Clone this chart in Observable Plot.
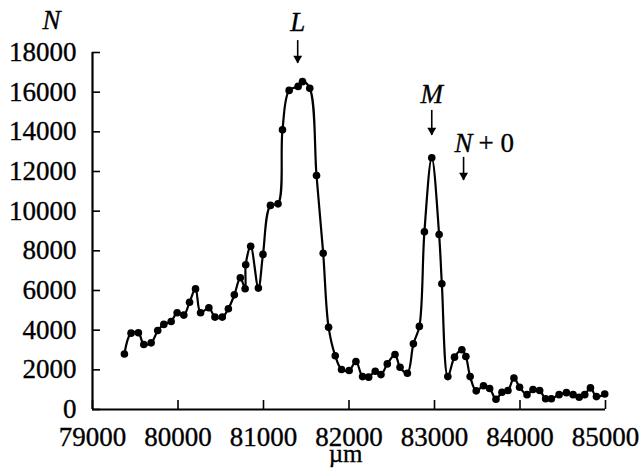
<!DOCTYPE html>
<html>
<head>
<meta charset="utf-8">
<script src="https://cdn.jsdelivr.net/npm/d3@7"></script>
<script src="https://cdn.jsdelivr.net/npm/@observablehq/plot@0.6"></script>
<style>
  html, body { margin: 0; padding: 0; background: #fff; }
  svg { display: block; }
</style>
</head>
<body>
<div id="chart"></div>
<script>
// Position along the scan (µm) and counts N
const positions = [
  79373, 79451, 79537, 79600, 79686, 79763, 79834, 79920, 79990, 80068,
  80135, 80205, 80264, 80361, 80432, 80518, 80589, 80659, 80729, 80785,
  80792, 80850, 80940, 80994, 81081, 81170, 81222, 81300, 81405, 81456,
  81541, 81620, 81698, 81761, 81839, 81913, 82002, 82081, 82159, 82230,
  82307, 82374, 82448, 82538, 82597, 82683, 82753, 82823, 82882, 82968,
  83054, 83086, 83156, 83234, 83320, 83367, 83417, 83488, 83573, 83645,
  83719, 83789, 83859, 83929, 83995, 84082, 84152, 84230, 84300, 84367,
  84457, 84543, 84621, 84692, 84757, 84824, 84894, 84991
];
const counts = [
  2800, 3850, 3870, 3280, 3360, 3980, 4290, 4440, 4880, 4760,
  5410, 6080, 4880, 5130, 4660, 4660, 5080, 5780, 6640, 6090,
  7300, 8230, 6120, 7820, 10290, 10370, 14100, 16090, 16290, 16530,
  16200, 11800, 7880, 4150, 2710, 2020, 1970, 2420, 1660, 1630,
  1930, 1760, 2300, 2770, 2130, 1830, 3310, 4190, 8960, 12690,
  8820, 6340, 1660, 2640, 3010, 2670, 1660, 940, 1200, 1060,
  520, 870, 960, 1590, 1120, 750, 1010, 960, 540, 540,
  750, 850, 750, 620, 750, 1090, 650, 780
];

const xTicks = [79000, 80000, 81000, 82000, 83000, 84000, 85000];
const yTicks = [0, 2000, 4000, 6000, 8000, 10000, 12000, 14000, 16000, 18000];

// Peak annotations
const annotLabels = ["L", "M", "N"];
const annotX = [81400, 82968, 83340];
const annotTextY = [19060, 15450, 12980];
const arrowTop = [18600, 15080, 12710];
const arrowBottom = [17450, 13820, 11550];
const annotSuffix = ["", "", "+ 0"];

const xTitle = "µm";
const yTitle = "N";

const data = positions.map((x, i) => ({x, n: counts[i]}));
const annots = annotLabels.map((t, i) => ({
  t, x: annotX[i], ty: annotTextY[i], y1: arrowTop[i], y2: arrowBottom[i], s: annotSuffix[i]
}));

const font = "Liberation Serif";
const fs = 27;
const txt = {stroke: "black", strokeWidth: 0.35, fill: "black", fontSize: fs};

const chart = Plot.plot({
  width: 644,
  height: 470,
  marginLeft: 92,
  marginRight: 39,
  marginTop: 52,
  marginBottom: 61,
  style: {fontFamily: font, fontSize: fs + "px", background: "white", color: "black", overflow: "visible"},
  x: {domain: [79000, 85000]},
  y: {domain: [0, 18000]},
  marks: [
    Plot.axisX({ticks: xTicks, tickSize: -9, fill: "none", label: null, strokeWidth: 1.6}),
    Plot.axisX({ticks: xTicks, tickSize: 0, tickPadding: 17, tickFormat: d => String(d), label: null,
      textStroke: "black", textStrokeWidth: 0.35, textStrokeOpacity: 1}),
    Plot.axisY({ticks: yTicks, tickSize: -8, fill: "none", label: null, strokeWidth: 1.6}),
    Plot.axisY({ticks: yTicks, tickSize: 0, tickPadding: 16, tickFormat: d => String(d), label: null,
      textStroke: "black", textStrokeWidth: 0.35, textStrokeOpacity: 1}),
    Plot.ruleY([0], {stroke: "black", strokeWidth: 2.2}),
    Plot.ruleX([79000], {y1: 0, y2: 18000, stroke: "black", strokeWidth: 2.2}),
    Plot.line(data, {x: "x", y: "n", curve: "catmull-rom", stroke: "black", strokeWidth: 2.2}),
    Plot.dot(data, {x: "x", y: "n", r: 3.8, fill: "black", stroke: "none"}),
    // annotations
    Plot.ruleX(annots, {x: "x", y1: "y1", y2: "y2", stroke: "black", strokeWidth: 1.6}),
    Plot.dot(annots, {x: "x", y: "y2", symbol: "triangle", r: 3.3, rotate: 180, dy: -5, fill: "black", stroke: "none"}),
    Plot.text(annots, {x: "x", y: "ty", text: "t", fontStyle: "italic", lineAnchor: "bottom", ...txt}),
    Plot.text(annots, {x: "x", y: "ty", text: "s", textAnchor: "start", dx: 15, lineAnchor: "bottom", ...txt}),
    Plot.text([yTitle], {x: 78520, y: 19160, text: d => d, fontStyle: "italic", lineAnchor: "bottom", ...txt}),
    Plot.text([xTitle], {x: 81960, y: -2660, text: d => d, lineAnchor: "bottom", ...txt, fontSize: 25})
  ]
});

document.getElementById("chart").appendChild(chart);
</script>
</body>
</html>
